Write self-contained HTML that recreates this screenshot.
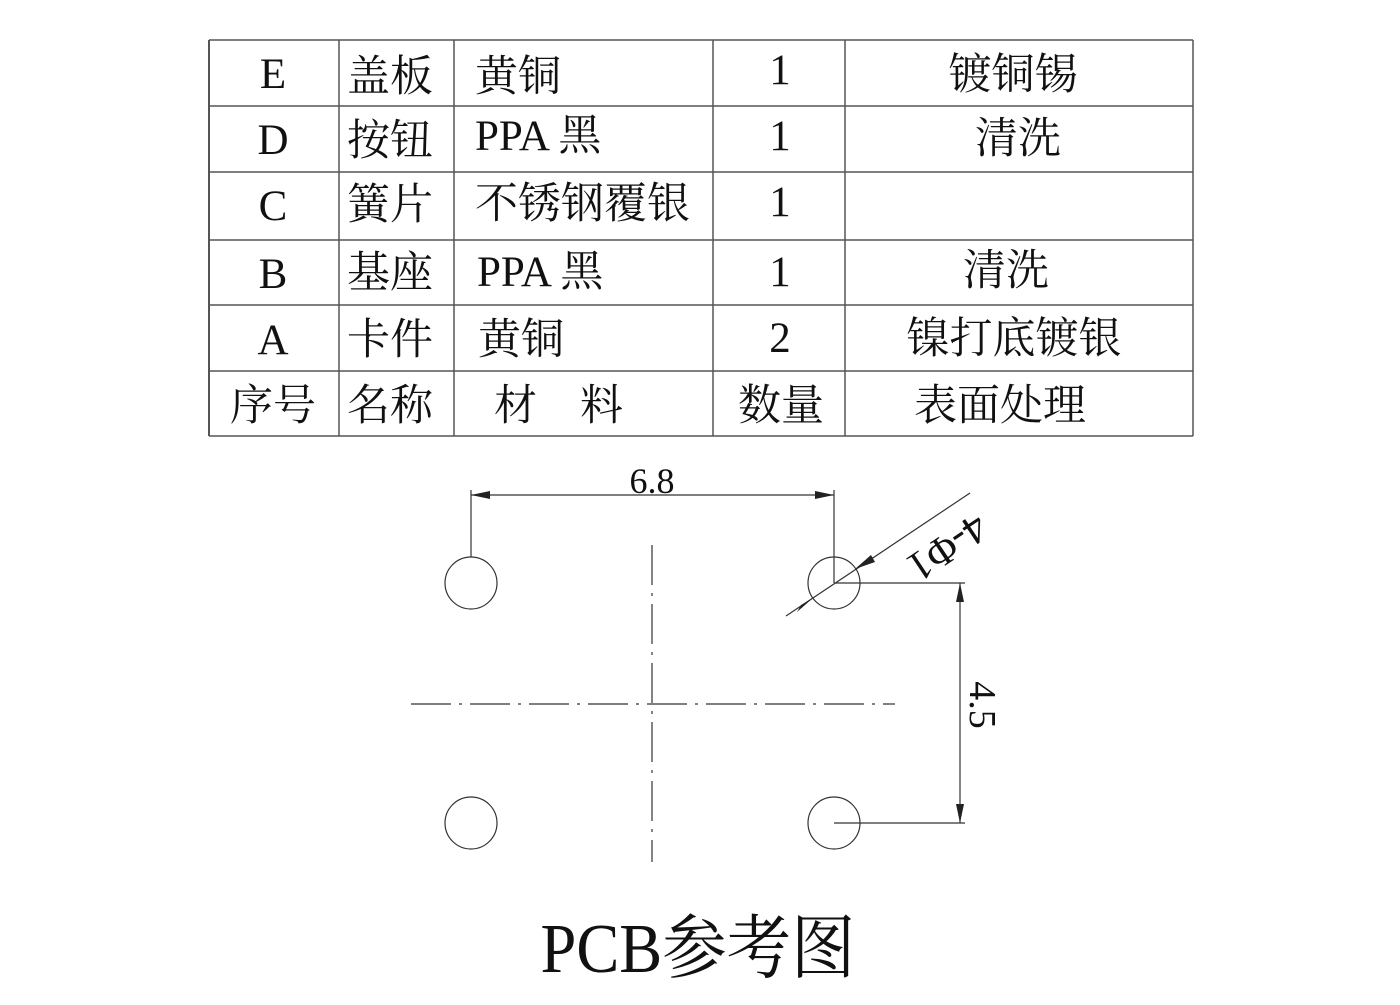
<!DOCTYPE html>
<html><head><meta charset="utf-8"><style>
body{margin:0;background:#fff;width:1400px;height:1000px;overflow:hidden}
svg text{font-family:"Liberation Serif","Noto Serif CJK SC",serif;fill:#111}
</style></head><body>
<svg width="1400" height="1000" xmlns="http://www.w3.org/2000/svg">
<g stroke="#555" stroke-width="1.5" fill="none">
<line x1="209" y1="40" x2="1193" y2="40"/>
<line x1="209" y1="106" x2="1193" y2="106"/>
<line x1="209" y1="172" x2="1193" y2="172"/>
<line x1="209" y1="240" x2="1193" y2="240"/>
<line x1="209" y1="305" x2="1193" y2="305"/>
<line x1="209" y1="371" x2="1193" y2="371"/>
<line x1="209" y1="436" x2="1193" y2="436"/>
<line x1="209" y1="40" x2="209" y2="436" stroke-width="2"/>
<line x1="339" y1="40" x2="339" y2="436"/>
<line x1="454" y1="40" x2="454" y2="436"/>
<line x1="713" y1="40" x2="713" y2="436"/>
<line x1="845" y1="40" x2="845" y2="436"/>
<line x1="1193" y1="40" x2="1193" y2="436"/>
</g>
<g font-size="43">
<text x="273" y="88" text-anchor="middle">E</text><text x="347" y="91">盖板</text><text x="475" y="91">黄铜</text><text x="780" y="84" text-anchor="middle">1</text><text x="1013" y="89" text-anchor="middle">镀铜锡</text>
<text x="273" y="154" text-anchor="middle">D</text><text x="347" y="155">按钮</text><text x="475" y="150">PPA 黑</text><text x="780" y="150" text-anchor="middle">1</text><text x="1018" y="153" text-anchor="middle">清洗</text>
<text x="273" y="220" text-anchor="middle">C</text><text x="347" y="219">簧片</text><text x="475" y="218">不锈钢覆银</text><text x="780" y="216" text-anchor="middle">1</text>
<text x="273" y="288" text-anchor="middle">B</text><text x="347" y="287">基座</text><text x="477" y="286">PPA 黑</text><text x="780" y="286" text-anchor="middle">1</text><text x="1006" y="285" text-anchor="middle">清洗</text>
<text x="273" y="354" text-anchor="middle">A</text><text x="347" y="354">卡件</text><text x="478" y="354">黄铜</text><text x="780" y="352" text-anchor="middle">2</text><text x="1014" y="353" text-anchor="middle">镍打底镀银</text>
<text x="273" y="420" text-anchor="middle">序号</text><text x="347" y="420">名称</text><text x="494" y="420">材　料</text><text x="781" y="420" text-anchor="middle">数量</text><text x="1000" y="420" text-anchor="middle">表面处理</text>
</g>
<g stroke="#333" stroke-width="1.2" fill="none">
<circle cx="471" cy="583" r="26"/><circle cx="834" cy="583" r="26"/>
<circle cx="471" cy="823" r="26"/><circle cx="834" cy="823" r="26"/>
<line x1="652" y1="545" x2="652" y2="862" stroke-dasharray="40,8,3,8"/>
<line x1="411" y1="704" x2="895" y2="704" stroke-dasharray="40,8,3,8"/>
<line x1="471" y1="557" x2="471" y2="490"/>
<line x1="834" y1="583" x2="834" y2="490"/>
<line x1="471" y1="495" x2="834" y2="495"/>
<line x1="834" y1="583" x2="965" y2="583"/>
<line x1="834" y1="823" x2="965" y2="823"/>
<line x1="960" y1="583" x2="960" y2="823"/>
<line x1="786" y1="616" x2="970" y2="493"/>
</g>
<g fill="#222">
<polygon points="471,495 490,491 490,499"/>
<polygon points="834,495 815,491 815,499"/>
<polygon points="960,583 956,602 964,602"/>
<polygon points="960,823 956,804 964,804"/>
<polygon points="855,569 871,555 875,562"/>
<polygon points="813,598 797,612 801,605"/>
</g>
<text x="652" y="493" font-size="36" text-anchor="middle">6.8</text>
<text transform="translate(970,705) rotate(90)" font-size="38" text-anchor="middle">4.5</text>
<text transform="translate(940,536) rotate(146.2)" font-size="42" text-anchor="middle">4-Φ1</text>
<text transform="translate(698,972) scale(0.92,1)" font-size="70" text-anchor="middle">PCB参考图</text>
</svg>
</body></html>
